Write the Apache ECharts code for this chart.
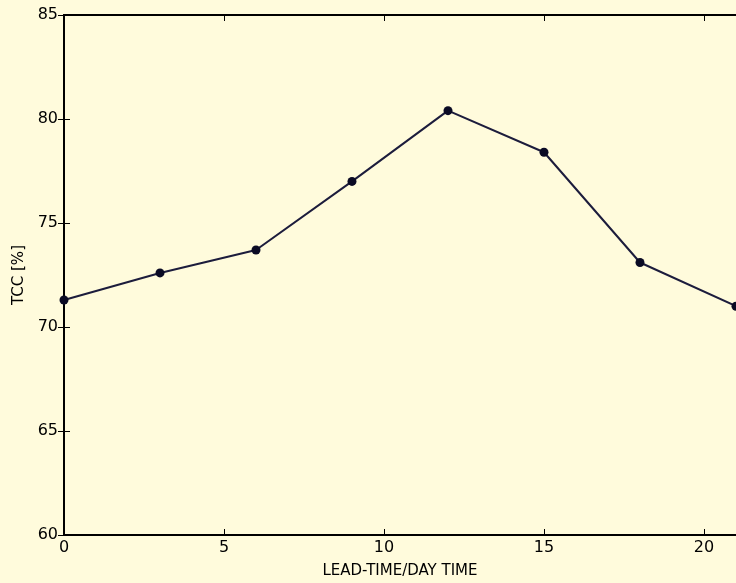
<!DOCTYPE html>
<html>
<head>
<meta charset="utf-8">
<script src="https://cdn.jsdelivr.net/npm/echarts@6/dist/echarts.min.js"></script>
<style>
  html, body { margin: 0; padding: 0; background: #fffbdc; }
  #chart { width: 736px; height: 583px; }
</style>
</head>
<body>
<div id="chart"></div>
<script>
const leadTime = [0, 3, 6, 9, 12, 15, 18, 21]
const tcc = [71.3, 72.6, 73.7, 77.0, 80.4, 78.4, 73.1, 71.0]

const axisFont = { fontFamily: 'DejaVu Sans', fontSize: 16, color: '#000' }
const spine = { show: true, lineStyle: { color: '#000', width: 2 } }
const tick = { show: true, inside: true, length: 6, lineStyle: { color: '#000', width: 1 } }

const chart = echarts.init(document.getElementById('chart'))
chart.setOption({
    backgroundColor: '#fffbdc',
    animation: false,
    grid: { left: 64, top: 15, right: 0, bottom: 48, outerBoundsMode: 'none', containLabel: false },
    xAxis: [
        {
            type: 'value', min: 0, max: 21, interval: 5,
            name: 'LEAD-TIME/DAY TIME', nameLocation: 'middle', nameGap: 29,
            nameTextStyle: Object.assign({}, axisFont, { fontSize: 15 }),
            axisLine: spine, axisTick: tick, splitLine: { show: false },
            axisLabel: Object.assign({ margin: 5, showMaxLabel: false }, axisFont)
        },
        {
            type: 'value', position: 'top', min: 0, max: 21, interval: 5,
            axisLine: spine, axisTick: tick, splitLine: { show: false },
            axisLabel: { show: false }
        }
    ],
    yAxis: [
        {
            type: 'value', min: 60, max: 85, interval: 5,
            name: 'TCC [%]', nameLocation: 'middle', nameGap: 37,
            nameTextStyle: Object.assign({}, axisFont, { fontSize: 15 }),
            axisLine: spine, axisTick: tick, splitLine: { show: false },
            axisLabel: Object.assign({ margin: 6 }, axisFont)
        },
        {
            type: 'value', position: 'right', min: 60, max: 85, interval: 5,
            axisLine: spine, axisTick: tick, splitLine: { show: false },
            axisLabel: { show: false }
        }
    ],
    series: [
        {
            type: 'line',
            data: leadTime.map((x, i) => [x, tcc[i]]),
            symbol: 'circle', symbolSize: 9,
            lineStyle: { color: '#1c1c3c', width: 2 },
            itemStyle: { color: '#0a0a24' },
            clip: false
        }
    ]
})
</script>
</body>
</html>
